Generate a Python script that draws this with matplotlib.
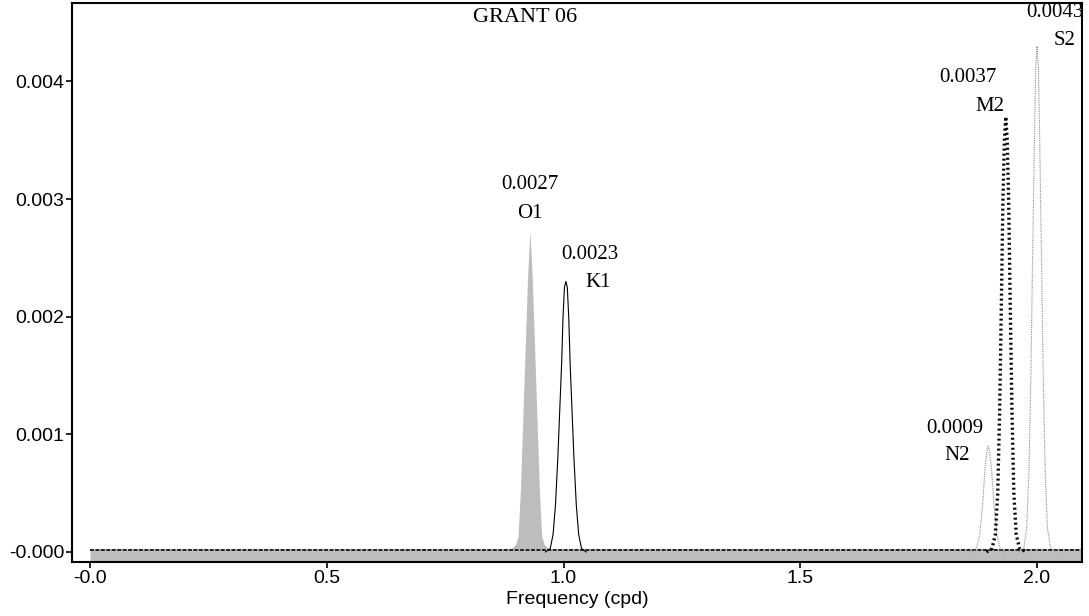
import numpy as np
import matplotlib
matplotlib.use("Agg")
import matplotlib.pyplot as plt

# spectrum peaks (frequency in cpd, amplitude)
o1_freq = [0.0, 0.890, 0.898, 0.904, 0.909, 0.914, 0.919, 0.924, 0.929, 0.934, 0.939, 0.944, 0.949, 0.954, 0.960, 0.968, 2.095]
o1_amp = [0.0, 0.0, 0.00003, 0.0001, 0.0005, 0.0011, 0.0017, 0.0023, 0.0027, 0.0023, 0.0017, 0.0011, 0.0005, 0.0001, 0.00003, 0.0, 0.0]

k1_freq = [0.962, 0.972, 0.978, 0.983, 0.988, 0.992, 0.996, 0.999, 1.002, 1.005, 1.008, 1.011, 1.014, 1.018, 1.022, 1.027, 1.032, 1.038, 1.048]
k1_amp = [0.0, 0.00003, 0.00015, 0.0004, 0.0008, 0.0012, 0.0016, 0.0020, 0.00225, 0.0023, 0.00225, 0.0020, 0.0016, 0.0012, 0.0008, 0.0004, 0.00015, 0.00003, 0.0]

n2_freq = [1.862, 1.872, 1.879, 1.885, 1.890, 1.894, 1.897, 1.900, 1.904, 1.909, 1.915, 1.922, 1.932]
n2_amp = [0.0, 0.00003, 0.00015, 0.0004, 0.0007, 0.00085, 0.0009, 0.00085, 0.0007, 0.0004, 0.00015, 0.00003, 0.0]

m2_freq = [1.893, 1.905, 1.912, 1.917, 1.921, 1.925, 1.928, 1.931, 1.934, 1.937, 1.940, 1.943, 1.947, 1.951, 1.956, 1.963, 1.978]
m2_amp = [0.0, 0.00003, 0.00015, 0.0005, 0.0012, 0.0022, 0.0030, 0.0035, 0.0037, 0.0035, 0.0030, 0.0022, 0.0012, 0.0005, 0.00015, 0.00003, 0.0]

s2_freq = [1.962, 1.972, 1.978, 1.983, 1.987, 1.991, 1.994, 1.997, 2.000, 2.003, 2.006, 2.009, 2.013, 2.017, 2.022, 2.029, 2.042]
s2_amp = [0.0, 0.00003, 0.0002, 0.0007, 0.0015, 0.0026, 0.0034, 0.0041, 0.0043, 0.0041, 0.0034, 0.0026, 0.0015, 0.0007, 0.0002, 0.00003, 0.0]

base_freq = [0.0, 2.095]
base_amp = [0.00002, 0.00002]

# label text: (value, name)
peak_labels = [("0.0027", "O1"), ("0.0023", "K1"), ("0.0009", "N2"), ("0.0037", "M2"), ("0.0043", "S2")]

xticks = [0.0, 0.5, 1.0, 1.5, 2.0]
xtick_labels = ["-0.0", "0.5", "1.0", "1.5", "2.0"]
yticks = [0.0, 0.001, 0.002, 0.003, 0.004]
ytick_labels = ["-0.000", "0.001", "0.002", "0.003", "0.004"]

fig = plt.figure(figsize=(10.89, 6.16), dpi=100)
ax = fig.add_axes([0.0661, 0.0877, 0.9275, 0.9074])

ymin, ymax = -0.000085, 0.004667
ax.set_xlim(-0.038, 2.095)
ax.set_ylim(ymin, ymax)

ax.fill_between(o1_freq, np.array(o1_amp) + 0.00003, ymin, color="#bdbdbd", lw=0)
ax.plot(base_freq, base_amp, color="#222222", lw=1.4, ls=(0, (2, 0.8)))
ax.plot(k1_freq, k1_amp, color="black", lw=0.8)
ax.plot(n2_freq, n2_amp, color="#8a8a8a", lw=0.8, ls=(0, (1, 1)))
ax.plot(s2_freq, s2_amp, color="#8a8a8a", lw=0.8, ls=(0, (1, 1)))
ax.plot(m2_freq, m2_amp, color="black", lw=2.4, ls=(0, (0.6, 0.9)))

serif = "Liberation Serif"
label_pos = [
    ((0.929, 0.00312), (0.929, 0.00288)),
    ((1.056, 0.00253), (1.073, 0.00229)),
    ((1.827, 0.00105), (1.831, 0.00082)),
    ((1.854, 0.00403), (1.901, 0.00379)),
    ((2.038, 0.00459), (2.059, 0.00435)),
]
for (val, name), (p1, p2) in zip(peak_labels, label_pos):
    ax.text(p1[0], p1[1], val, ha="center", va="center", fontsize=15, family=serif)
    ax.text(p2[0], p2[1], name, ha="center", va="center", fontsize=15, family=serif)

ax.text(0.919, 0.00454, "GRANT 06", ha="center", va="center", fontsize=16, family=serif)

ax.set_xticks(xticks)
ax.set_xticklabels(xtick_labels)
ax.set_yticks(yticks)
ax.set_yticklabels(ytick_labels)
for lab in ax.get_xticklabels() + ax.get_yticklabels():
    lab.set_family("Liberation Sans")
    lab.set_fontsize(14)
ax.tick_params(direction="out", length=4, width=1.2, pad=1.5)
ax.set_xlabel("Frequency (cpd)", family="Liberation Sans", fontsize=14, labelpad=3)
for s in ax.spines.values():
    s.set_linewidth(1.5)

fig.savefig("out.png", dpi=100)
